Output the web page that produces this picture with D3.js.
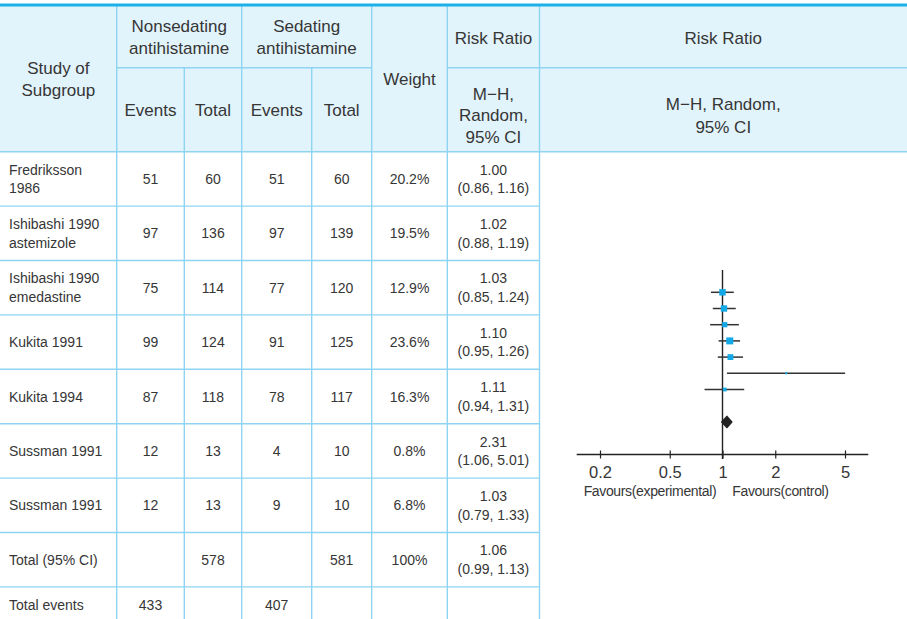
<!DOCTYPE html>
<html>
<head>
<meta charset="utf-8">
<script src="https://cdn.jsdelivr.net/npm/d3@7"></script>
<style>
  html, body { margin: 0; padding: 0; background: #fff; }
  svg text { font-family: "Liberation Sans", Arial, sans-serif; fill: #363636; }
</style>
</head>
<body>
<svg id="chart" width="907" height="619"></svg>
<script>
// ---- data ----
const studyNames = [
  ["Fredriksson", "1986"],
  ["Ishibashi 1990", "astemizole"],
  ["Ishibashi 1990", "emedastine"],
  ["Kukita 1991"],
  ["Kukita 1994"],
  ["Sussman 1991"],
  ["Sussman 1991"]
];
const expEvents = [51, 97, 75, 99, 87, 12, 12];
const expTotal  = [60, 136, 114, 124, 118, 13, 13];
const ctlEvents = [51, 97, 77, 91, 78, 4, 9];
const ctlTotal  = [60, 139, 120, 125, 117, 10, 10];
const weights   = [20.2, 19.5, 12.9, 23.6, 16.3, 0.8, 6.8];
const riskRatio = [1.00, 1.02, 1.03, 1.10, 1.11, 2.31, 1.03];
const ciLow     = [0.86, 0.88, 0.85, 0.95, 0.94, 1.06, 0.79];
const ciHigh    = [1.16, 1.19, 1.24, 1.26, 1.31, 5.01, 1.33];

const pooled = { expTotal: 578, ctlTotal: 581, weight: 100, rr: 1.06, lo: 0.99, hi: 1.13 };
const totalEvents = { exp: 433, ctl: 407 };

const axisTicks = [0.2, 0.5, 1, 2, 5];
const favourLabels = ["Favours(experimental)", "Favours(control)"];

// ---- layout ----
const W = 907, H = 619;
const colX = [0, 116.7, 184.3, 241.7, 311.7, 371.7, 447.3, 539.5, W];
const headTop = 5, headMid = 67.7, headBot = 151.7;
const rowH = 54.4;
const gridColor = "#8fd5f3";
const headFill = "#e1f3fb";

const svg = d3.select("#chart");
const fmt2 = d3.format(".2f");
const fmtPct = d => (d === 100 ? "100" : d3.format(".1f")(d)) + "%";

// header background
svg.append("rect").attr("x", 0).attr("y", headTop).attr("width", W)
  .attr("height", headBot - headTop).attr("fill", headFill);

const grid = svg.append("g").attr("stroke", gridColor).attr("stroke-width", 1.4);
// header inner separator (under group headings and the Risk Ratio titles)
grid.append("line").attr("x1", colX[1]).attr("x2", colX[5]).attr("y1", headMid).attr("y2", headMid);
grid.append("line").attr("x1", colX[6]).attr("x2", W).attr("y1", headMid).attr("y2", headMid);
// header bottom
grid.append("line").attr("x1", 0).attr("x2", W).attr("y1", headBot).attr("y2", headBot);
// vertical lines
[1, 3, 5, 6, 7].forEach(i => grid.append("line").attr("x1", colX[i]).attr("x2", colX[i])
  .attr("y1", headTop).attr("y2", H));
[2, 4].forEach(i => grid.append("line").attr("x1", colX[i]).attr("x2", colX[i])
  .attr("y1", headMid).attr("y2", H));
// row separators in the table part
for (let r = 1; r <= 8; r++) {
  const y = headBot + r * rowH;
  grid.append("line").attr("x1", 0).attr("x2", colX[7]).attr("y1", y).attr("y2", y);
}
// top rule
svg.append("line").attr("x1", 0).attr("x2", W).attr("y1", headTop).attr("y2", headTop)
  .attr("stroke", "#1db0e8").attr("stroke-width", 3);

function label(x, y, str, size, anchor) {
  return svg.append("text").attr("x", x).attr("y", y)
    .attr("text-anchor", anchor || "middle").attr("dominant-baseline", "central")
    .attr("font-size", size).text(str);
}
const cx = i => (colX[i] + colX[i + 1]) / 2;

// header texts
const HS = 17;
label(cx(0), 68, "Study of", HS);
label(cx(0), 90, "Subgroup", HS);
label((colX[1] + colX[3]) / 2, 26, "Nonsedating", HS);
label((colX[1] + colX[3]) / 2, 48, "antihistamine", HS);
label((colX[3] + colX[5]) / 2, 26, "Sedating", HS);
label((colX[3] + colX[5]) / 2, 48, "antihistamine", HS);
label(cx(1), 110, "Events", HS);
label(cx(2), 110, "Total", HS);
label(cx(3), 110, "Events", HS);
label(cx(4), 110, "Total", HS);
label(cx(5), 79, "Weight", HS);
label(cx(6), 38, "Risk Ratio", HS);
label(cx(6), 94, "M\u2212H,", HS);
label(cx(6), 115.5, "Random,", HS);
label(cx(6), 137.5, "95% CI", HS);
label(cx(7), 38, "Risk Ratio", HS);
label(cx(7), 104.5, "M\u2212H, Random,", HS);
label(cx(7), 127, "95% CI", HS);

// table body
const DS = 14;
const rowCenter = r => headBot + rowH * (r + 0.5);
studyNames.forEach((lines, r) => {
  const yc = rowCenter(r);
  lines.forEach((ln, k) => {
    const y = lines.length === 1 ? yc : yc + (k === 0 ? -9.3 : 9.3);
    label(9, y, ln, DS, "start");
  });
  label(cx(1), yc, expEvents[r], DS);
  label(cx(2), yc, expTotal[r], DS);
  label(cx(3), yc, ctlEvents[r], DS);
  label(cx(4), yc, ctlTotal[r], DS);
  label(cx(5), yc, fmtPct(weights[r]), DS);
  label(cx(6), yc - 9.3, fmt2(riskRatio[r]), DS);
  label(cx(6), yc + 9.3, `(${fmt2(ciLow[r])}, ${fmt2(ciHigh[r])})`, DS);
});
const yTot = rowCenter(7);
label(9, yTot, "Total (95% CI)", DS, "start");
label(cx(2), yTot, pooled.expTotal, DS);
label(cx(4), yTot, pooled.ctlTotal, DS);
label(cx(5), yTot, fmtPct(pooled.weight), DS);
label(cx(6), yTot - 9.3, fmt2(pooled.rr), DS);
label(cx(6), yTot + 9.3, `(${fmt2(pooled.lo)}, ${fmt2(pooled.hi)})`, DS);
const yEv = 605;
label(9, yEv, "Total events", DS, "start");
label(cx(1), yEv, totalEvents.exp, DS);
label(cx(3), yEv, totalEvents.ctl, DS);

// ---- forest plot ----
const x = d3.scaleLog().domain([0.2, 5]).range([600, 845]);
const slots = d3.range(9); // 7 studies, a gap, the pooled estimate
const y = d3.scalePoint().domain(slots).range([292.3, 421.9]);
const size = d3.scaleSqrt().domain([0, 23.6]).range([0, 7]);
const axisY = 454.5;

const plot = svg.append("g");
// line of no effect
plot.append("line").attr("x1", x(1)).attr("x2", x(1)).attr("y1", 270).attr("y2", 459)
  .attr("stroke", "#222").attr("stroke-width", 1.4);

// confidence intervals
plot.selectAll("line.ci").data(d3.range(studyNames.length)).join("line")
  .attr("class", "ci")
  .attr("x1", i => x(ciLow[i])).attr("x2", i => x(ciHigh[i]))
  .attr("y1", i => y(i)).attr("y2", i => y(i))
  .attr("stroke", "#333").attr("stroke-width", 1.5);

// study squares sized by weight
plot.selectAll("rect.pt").data(d3.range(studyNames.length)).join("rect")
  .attr("class", "pt")
  .attr("x", i => x(riskRatio[i]) - Math.max(2, size(weights[i])) / 2)
  .attr("y", i => y(i) - Math.max(2, size(weights[i])) / 2)
  .attr("width", i => Math.max(2, size(weights[i])))
  .attr("height", i => Math.max(2, size(weights[i])))
  .attr("fill", "#12a9e6");

// pooled diamond
const yd = y(8), dh = 5.5;
plot.append("path")
  .attr("d", `M${x(pooled.lo)},${yd} L${x(pooled.rr)},${yd - dh} L${x(pooled.hi)},${yd} L${x(pooled.rr)},${yd + dh} Z`)
  .attr("fill", "#222").attr("stroke", "#222").attr("stroke-width", 1.5).attr("stroke-linejoin", "round");

// axis
const axisG = plot.append("g").attr("transform", `translate(0,${axisY})`)
  .call(d3.axisBottom(x).tickValues(axisTicks).tickFormat(d3.format("")).tickSize(4).tickPadding(10));
axisG.select(".domain").remove();
axisG.append("line").attr("x1", 576.7).attr("x2", 868.3).attr("stroke", "#222").attr("stroke-width", 1.4);
axisG.selectAll(".tick line").attr("y1", -4).attr("y2", 4).attr("stroke", "#222").attr("stroke-width", 1.2);
axisG.selectAll(".tick text").attr("font-size", 16.5).attr("fill", "#363636")
  .attr("font-family", "\"Liberation Sans\", Arial, sans-serif").attr("dy", null)
  .attr("y", 17).attr("dominant-baseline", "central");

label(650, 491, favourLabels[0], 14).attr("letter-spacing", -0.35);
label(780.5, 491, favourLabels[1], 14).attr("letter-spacing", -0.35);
</script>
</body>
</html>
